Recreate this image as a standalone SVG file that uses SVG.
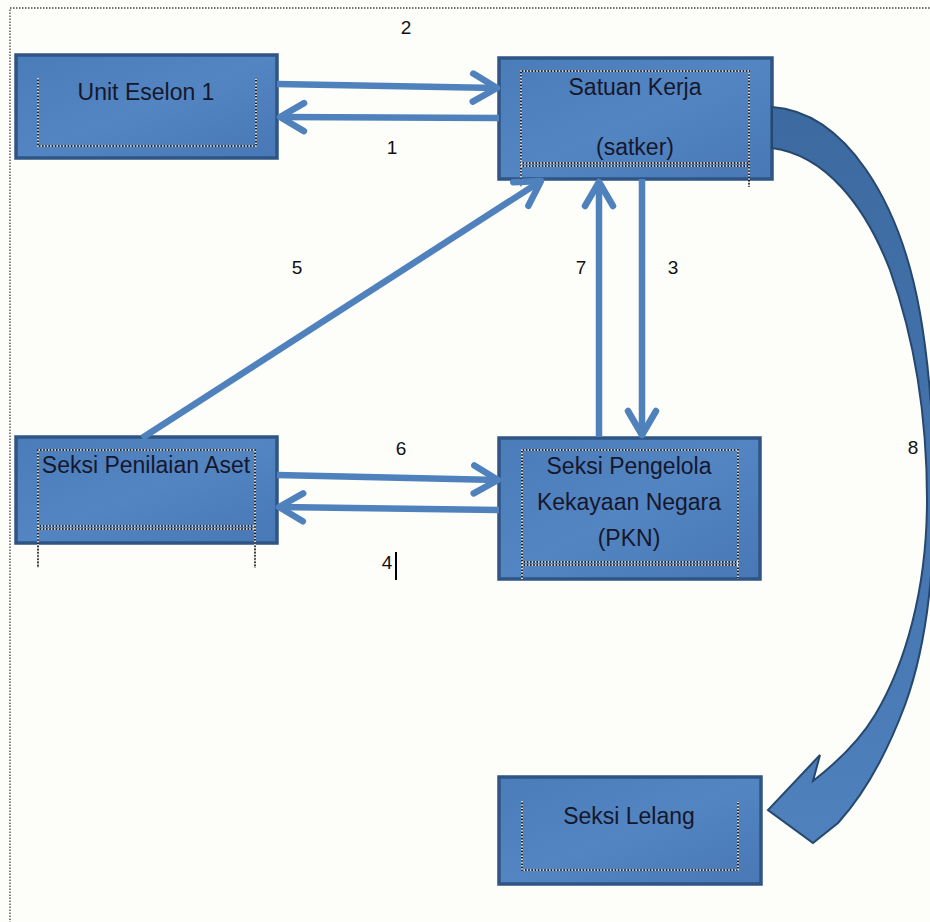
<svg xmlns="http://www.w3.org/2000/svg" width="930" height="922" viewBox="0 0 930 922">
<style>
.box{fill:url(#boxg);stroke:#2f5584;stroke-width:3.5}
.dotb{fill:none;stroke:#111;stroke-width:1.6}
.dotw{fill:none;stroke:#fff;stroke-width:1.6;stroke-dasharray:1.6 1.6}
.t{font-family:"Liberation Sans",Arial,sans-serif;font-size:23px;fill:#17172c;text-anchor:middle}
.n{font-family:"Liberation Sans",Arial,sans-serif;font-size:19px;fill:#111;text-anchor:middle}
.ar{fill:none;stroke:#4f81bd;stroke-width:6.5;marker-end:url(#chev)}
</style>
<defs>
<linearGradient id="boxg" x1="0" y1="0" x2="1" y2="1">
<stop offset="0" stop-color="#4a7cb9"/><stop offset="0.5" stop-color="#5285c2"/><stop offset="1" stop-color="#4878b5"/>
</linearGradient>
<linearGradient id="bandg" x1="0" y1="0" x2="0" y2="1">
<stop offset="0" stop-color="#3c6aa0"/><stop offset="0.6" stop-color="#4676b0"/><stop offset="1" stop-color="#4f81bd"/>
</linearGradient>
<marker id="chev" markerUnits="userSpaceOnUse" viewBox="0 0 32 32" markerWidth="32" markerHeight="32" refX="28" refY="16" orient="auto" overflow="visible">
<path d="M4,2 L28,16 L4,30" fill="none" stroke="#4f81bd" stroke-width="6.5" stroke-linecap="round" stroke-linejoin="round"/>
</marker>
</defs>
<rect x="0" y="0" width="930" height="922" fill="#fdfdf9"/>
<rect x="10" y="8" width="960" height="960" fill="none" stroke="#444" stroke-width="1.3" stroke-dasharray="1.5 1.5"/>

<g id="node-unit-eselon">
<rect class="box" x="16" y="55" width="261" height="103"/>
<path class="dotb" d="M38,78 V146 H256 V78"/><path class="dotw" d="M38,78 V146 H256 V78"/>
<text class="t" x="146" y="100">Unit Eselon 1</text>
</g>

<g id="node-satker">
<rect class="box" x="499" y="58" width="273" height="121"/>
<path class="dotb" d="M521,187 V71 H749 V187 M521,163 H749 M521,166 H749"/>
<path class="dotw" d="M521,187 V71 H749 V187 M521,163 H749 M521,166 H749"/>
<text class="t" x="635" y="95">Satuan Kerja</text>
<text class="t" x="635" y="155">(satker)</text>
</g>

<g id="node-penilaian">
<rect class="box" x="16" y="437" width="261" height="106"/>
<path class="dotb" d="M38,568 V450 H255 V568 M38,526 H255 M38,529 H255"/>
<path class="dotw" d="M38,568 V450 H255 V568 M38,526 H255 M38,529 H255"/>
<text class="t" x="146" y="473">Seksi Penilaian Aset</text>
</g>

<g id="node-pkn">
<rect class="box" x="499" y="438" width="261" height="141"/>
<path class="dotb" d="M522,579 V450 H738 V579 M522,562 H738 M522,565 H738"/>
<path class="dotw" d="M522,579 V450 H738 V579 M522,562 H738 M522,565 H738"/>
<text class="t" x="629" y="474">Seksi Pengelola</text>
<text class="t" x="629" y="510">Kekayaan Negara</text>
<text class="t" x="629" y="546">(PKN)</text>
</g>

<g id="node-lelang">
<rect class="box" x="499" y="777" width="262" height="107"/>
<path class="dotb" d="M522,801 V870 H738 V801"/><path class="dotw" d="M522,801 V870 H738 V801"/>
<text class="t" x="629" y="824">Seksi Lelang</text>
</g>

<g id="connectors">
<path class="ar" d="M277,84 L497,88"/>
<path class="ar" d="M499,118 L280,117"/>
<path class="ar" d="M277,475 L498,480"/>
<path class="ar" d="M499,510 L279,507"/>
<path class="ar" d="M142,438 L541,181"/>
<path class="ar" d="M599,437 L599,182"/>
<path class="ar" d="M642,179 L642,435"/>
<path d="M772,107 C845,112 900,200 920,313 C930,370 934,430 934,500 C934,580 925,650 905,705 C890,745 868,790 838,823 L813,843 L768,810 L820,755 L813,781 C840,760 860,740 875,715 C905,665 927,590 927,500 C927,420 915,340 890,270 C865,205 825,155 772,148 Z" fill="url(#bandg)" stroke="#26486f" stroke-width="2" stroke-linejoin="miter"/>
<text class="n" x="406" y="34">2</text>
<text class="n" x="392" y="154">1</text>
<text class="n" x="297" y="274">5</text>
<text class="n" x="581" y="274">7</text>
<text class="n" x="673" y="274">3</text>
<text class="n" x="401" y="455">6</text>
<text class="n" x="387" y="569">4</text>
<rect x="395" y="552" width="2" height="28" fill="#000"/>
<text class="n" x="913" y="454">8</text>
</g>
</svg>
